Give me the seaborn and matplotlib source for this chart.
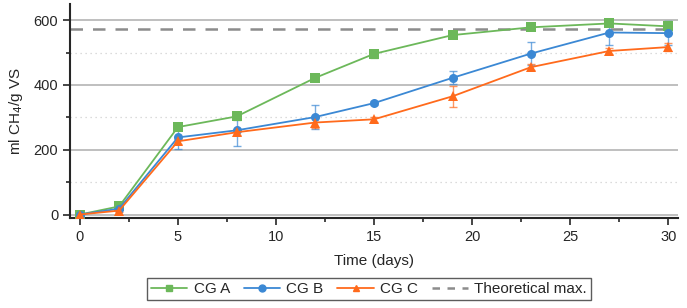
import numpy as np
import pandas as pd
import matplotlib
matplotlib.use("Agg")
import matplotlib.pyplot as plt
import seaborn as sns
from matplotlib.ticker import MultipleLocator

# data
days = [0, 2, 5, 8, 12, 15, 19, 23, 27, 30]
cg_a = [0, 25, 270, 303, 422, 496, 554, 578, 590, 581]
cg_b = [0, 18, 238, 260, 301, 344, 422, 497, 562, 560]
cg_c = [0, 12, 226, 254, 284, 294, 365, 455, 505, 517]
err_a = [3, 5, 8, 12, 10, 13, 10, 6, 8, 15]
err_b = [3, 5, 35, 50, 38, 6, 20, 35, 40, 38]
err_c = [3, 4, 8, 8, 18, 8, 33, 10, 8, 12]
theoretical_max = 573

names = ["CG A", "CG B", "CG C"]
colors = ["#6cb85a", "#3b88d4", "#ff6a1c"]
markers = ["s", "o", "^"]

df = pd.concat([
    pd.DataFrame({"day": days, "value": v, "err": e, "series": n})
    for v, e, n in zip([cg_a, cg_b, cg_c], [err_a, err_b, err_c], names)
])

sns.set_style("ticks")
plt.rcParams["font.family"] = ["Liberation Sans", "DejaVu Sans"]
plt.rcParams["font.size"] = 10.5

fig = plt.figure(figsize=(6.87, 3.08), dpi=100)
ax = fig.add_axes([0.102, 0.292, 0.885, 0.695])

# grid lines
for y in [0, 200, 400, 600]:
    ax.axhline(y, color="#b4b4b4", lw=1.2, zorder=0)
for y in [100, 300, 500]:
    ax.axhline(y, color="#d0d0d0", lw=0.9, ls=(0, (1, 3)), zorder=0)

for n, c, m in zip(names, colors, markers):
    sub = df[df["series"] == n]
    ax.errorbar(sub["day"], sub["value"], yerr=sub["err"], fmt="none",
                ecolor=c, elinewidth=1, capsize=3, capthick=1, alpha=0.7, zorder=2)

sns.lineplot(data=df, x="day", y="value", hue="series", style="series",
             palette=dict(zip(names, colors)), markers=dict(zip(names, markers)),
             dashes=False, markersize=6.5, markeredgewidth=0, linewidth=1.3,
             ax=ax, legend=False, zorder=3)

ax.axhline(theoretical_max, color="#8c8c8c", lw=1.8, ls=(0, (5, 4)), zorder=1)

ax.set_xlim(-0.5, 30.5)
ax.set_ylim(-11, 650)
ax.xaxis.set_major_locator(MultipleLocator(5))
ax.xaxis.set_minor_locator(MultipleLocator(2.5))
ax.yaxis.set_major_locator(MultipleLocator(200))
ax.yaxis.set_minor_locator(MultipleLocator(100))
ax.tick_params(which="major", length=5, width=1.2, direction="out", labelsize=10.5)
ax.tick_params(which="minor", length=3, width=1.2, direction="out")
for s in ["top", "right"]:
    ax.spines[s].set_visible(False)
for s in ["left", "bottom"]:
    ax.spines[s].set_linewidth(1.5)

ax.set_xlabel("Time (days)", fontsize=11, labelpad=7)
ax.set_ylabel("ml CH$_4$/g VS", fontsize=11, labelpad=6)

handles = [plt.Line2D([], [], color=c, marker=m, markersize=5, lw=1.3)
           for c, m in zip(colors, markers)]
handles.append(plt.Line2D([], [], color="#8c8c8c", lw=1.8, ls=(0, (3, 3))))
leg = fig.legend(handles, names + ["Theoretical max."], loc="center",
                 bbox_to_anchor=(0.537, 0.062), ncol=4, frameon=True,
                 fancybox=False, edgecolor="#333333", fontsize=11,
                 handlelength=2.4, columnspacing=0.9, handletextpad=0.4,
                 borderpad=0.25)
leg.get_frame().set_linewidth(1.0)

fig.savefig("out.png", dpi=100)
